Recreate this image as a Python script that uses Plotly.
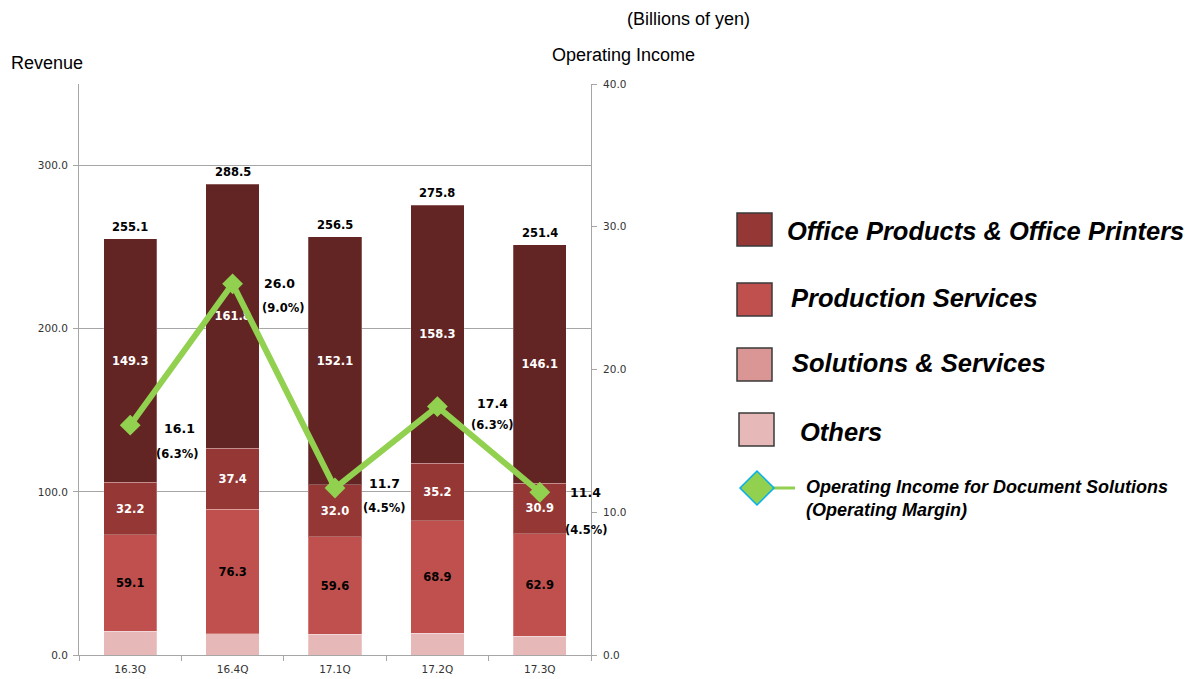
import plotly.graph_objects as go

# Quarterly revenue by business line (billions of yen)
categories = ["16.3Q", "16.4Q", "17.1Q", "17.2Q", "17.3Q"]
office_products = [149.3, 161.8, 152.1, 158.3, 146.1]
production_services = [32.2, 37.4, 32.0, 35.2, 30.9]
solutions_services = [59.1, 76.3, 59.6, 68.9, 62.9]
others = [14.5, 13.0, 12.8, 13.4, 11.5]
revenue_totals = [255.1, 288.5, 256.5, 275.8, 251.4]

# Operating income for Document Solutions and its margin
operating_income = [16.1, 26.0, 11.7, 17.4, 11.4]
operating_margin = ["6.3%", "9.0%", "4.5%", "6.3%", "4.5%"]

legend_names = ["Office Products & Office Printers", "Production Services",
                "Solutions & Services", "Others"]

BAR_COLORS = {"op": "#632523", "ps": "#953735", "ss": "#C0504D", "ot": "#E6B9B8"}
SWATCH_COLORS = ["#953735", "#C0504D", "#D99694", "#E6B9B8"]
GREEN = "#92D050"
GRID = "#A6A6A6"
LABEL_FONT = "DejaVu Sans"
TEXT_FONT = "Liberation Sans"

W, H = 1194, 679
ML, MR, MT, MB = 79, 603, 84, 24
PW, PH = W - ML - MR, H - MT - MB


def px(x):
    return (x - ML) / PW


def py(y):
    return (H - MB - y) / PH


def note(x, y, text, size, xanchor="center", bold=False, align="center"):
    fig.add_annotation(x=px(x), y=py(y), xref="paper", yref="paper", text=text,
                       xanchor=xanchor, yanchor="middle", align=align, showarrow=False,
                       font=dict(family=TEXT_FONT, size=size, color="black",
                                 weight="bold" if bold else "normal"))


fig = go.Figure()

stack = [
    (others, BAR_COLORS["ot"], None, None),
    (solutions_services, BAR_COLORS["ss"], "black", "%{y:.1f}"),
    (production_services, BAR_COLORS["ps"], "white", "%{y:.1f}"),
    (office_products, BAR_COLORS["op"], "white", "%{y:.1f}"),
]
for vals, color, tcolor, tmpl in stack:
    fig.add_trace(go.Bar(
        x=categories, y=vals,
        marker=dict(color=color, line=dict(color="rgba(255,255,255,0.25)", width=1)),
        texttemplate=tmpl if tmpl else "",
        textposition="inside" if tmpl else "none",
        insidetextanchor="middle",
        textangle=0,
        textfont=dict(family=LABEL_FONT, size=11.5, color=tcolor or "black", weight="bold"),
        showlegend=False, hoverinfo="skip",
    ))

fig.add_trace(go.Scatter(
    x=categories, y=operating_income, yaxis="y2",
    mode="lines+markers",
    line=dict(color=GREEN, width=6),
    marker=dict(symbol="diamond", size=16, color=GREEN),
    showlegend=False, hoverinfo="skip",
))

# Revenue totals above each stack
for c, t in zip(categories, revenue_totals):
    fig.add_annotation(x=c, y=t, text=f"{t:.1f}", showarrow=False,
                       yanchor="bottom", yshift=3,
                       font=dict(family=LABEL_FONT, size=11.5, color="black", weight="bold"))

# Operating income and margin labels next to each point
offsets = [(49, -3, 47, -29), (47, 0, 50, -24), (49, 4, 49, -20),
           (55, 3, 55, -18), (46, 0, 46, -38)]
for c, v, m, (dx1, dy1, dx2, dy2) in zip(categories, operating_income, operating_margin, offsets):
    fig.add_annotation(x=c, y=v, yref="y2", text=f"{v:.1f}", showarrow=False,
                       xshift=dx1, yshift=dy1,
                       font=dict(family=LABEL_FONT, size=12.5, color="black", weight="bold"))
    fig.add_annotation(x=c, y=v, yref="y2", text=f"({m})", showarrow=False,
                       xshift=dx2, yshift=dy2,
                       font=dict(family=LABEL_FONT, size=11.5, color="black", weight="bold"))

# Axis titles and unit note
note(47, 63, "Revenue", 18)
note(623, 55, "Operating Income", 18)
note(688, 19, "(Billions of yen)", 18)

# Custom legend
swatches = [(737, 213, 785, 231), (737, 283, 789, 298), (737, 348, 790, 363), (739, 413, 798, 432)]
for (sx, sy, tx, ty), name, col in zip(swatches, legend_names, SWATCH_COLORS):
    fig.add_shape(type="rect", xref="paper", yref="paper",
                  x0=px(sx), x1=px(sx + 35), y0=py(sy), y1=py(sy + 33),
                  fillcolor=col, line=dict(color="#3A3A3A", width=1.5))
    note(tx, ty, f"<i>{name}</i>", 25.5, xanchor="left", bold=True)

fig.add_shape(type="line", xref="paper", yref="paper",
              x0=px(770), x1=px(795), y0=py(488), y1=py(488),
              line=dict(color=GREEN, width=3))
cx, cy, r = 757, 488, 17
fig.add_shape(type="path", xref="paper", yref="paper",
              path=(f"M {px(cx - r)} {py(cy)} L {px(cx)} {py(cy - r)} "
                    f"L {px(cx + r)} {py(cy)} L {px(cx)} {py(cy + r)} Z"),
              fillcolor=GREEN, line=dict(color="#00B0F0", width=1.5))
note(804, 498, "<i>Operating Income for Document Solutions<br>(Operating Margin)</i>",
     18, xanchor="left", bold=True, align="left")

fig.update_layout(
    width=W, height=H,
    margin=dict(l=ML, r=MR, t=MT, b=MB),
    paper_bgcolor="white", plot_bgcolor="white",
    barmode="stack", bargap=0.48,
    xaxis=dict(type="category", range=[-0.5, 4.5], automargin=False,
               showline=True, linecolor=GRID, linewidth=1,
               ticks="outside", tickson="boundaries", ticklen=5, tickcolor=GRID,
               ticklabelstandoff=4,
               tickfont=dict(family=LABEL_FONT, size=10.5, color="#333333"),
               showgrid=False, zeroline=False),
    yaxis=dict(range=[0, 350], dtick=100, tickformat=".1f", automargin=False,
               showline=True, linecolor=GRID, linewidth=1,
               ticks="outside", ticklen=5, tickcolor=GRID, ticklabelstandoff=3,
               showgrid=True, gridcolor=GRID, gridwidth=1, zeroline=False,
               tickfont=dict(family=LABEL_FONT, size=10.5, color="#333333")),
    yaxis2=dict(range=[0, 40], dtick=10, tickformat=".1f", overlaying="y", side="right",
                automargin=False,
                showline=True, linecolor=GRID, linewidth=1,
                ticks="outside", ticklen=5, tickcolor=GRID, ticklabelstandoff=4,
                showgrid=False, zeroline=False,
                tickfont=dict(family=LABEL_FONT, size=10.5, color="#333333")),
)

fig.write_html("out.html")
